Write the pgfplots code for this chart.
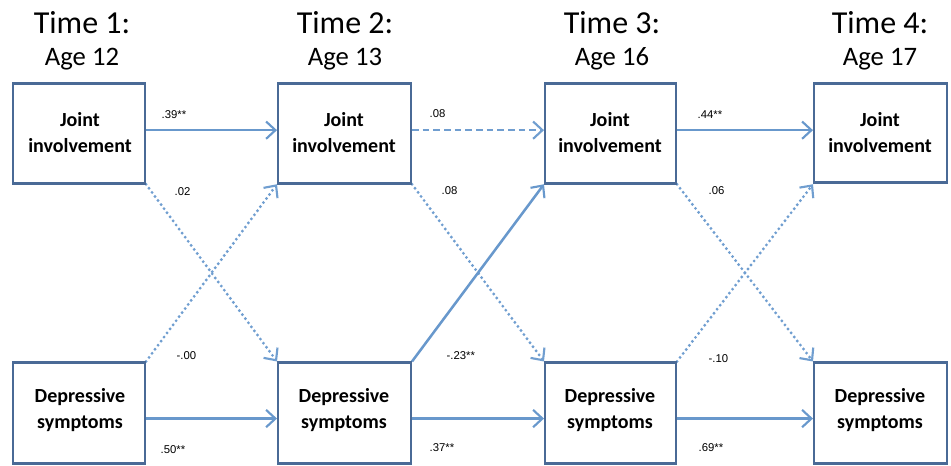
\documentclass[border=0pt]{standalone}
\usepackage{pgfplots}
\pgfplotsset{compat=1.18}
\usepackage{fontspec}
\setmainfont{Carlito}
\newfontfamily\labfont{Liberation Sans}
\usetikzlibrary{arrows.meta}
\definecolor{boxc}{RGB}{74,106,150}
\definecolor{arrc}{RGB}{104,152,204}
\definecolor{dotc}{RGB}{112,158,208}
\begin{document}
\begin{tikzpicture}
\begin{axis}[
  scale only axis, width=713.25pt, height=348pt,
  xmin=0, xmax=951, ymin=0, ymax=464, y dir=reverse,
  hide axis, clip=false,
  solid arr/.style={arrc, line width=1.9pt, -{Straight Barb[length=7pt,width=13pt,line width=1.6pt]}},
  dash arr/.style={dotc, line width=1.9pt, dash pattern=on 5pt off 3pt, -{Straight Barb[length=7pt,width=13pt,line width=1.6pt]}},
  dot arr/.style={dotc, line width=2.4pt, line cap=round, dash pattern=on 0pt off 3.8pt, -{Straight Barb[length=7pt,width=13pt,line width=1.6pt]}},
  boxline/.style={boxc, line width=2.2pt, line cap=rect, line join=miter},
]
% invisible frame to fix the bounding box
\addplot[draw=none] coordinates {(0,0) (951,464)};
% horizontal paths, top row (joint involvement)
\addplot[solid arr] coordinates {(146,130) (277,130)};
\addplot[dash arr]  coordinates {(412,130) (544,130)};
\addplot[solid arr] coordinates {(677,130) (813,130)};
% horizontal paths, bottom row (depressive symptoms)
\addplot[solid arr] coordinates {(146,418) (277,418)};
\addplot[solid arr] coordinates {(412,418) (544,418)};
\addplot[solid arr] coordinates {(677,418) (813,418)};
% cross-lagged paths
\addplot[dot arr]   coordinates {(146,184) (277,361)};
\addplot[dot arr]   coordinates {(146,361) (277,184)};
\addplot[dot arr]   coordinates {(412,184) (544,361)};
\addplot[solid arr] coordinates {(412,361) (544,184)};
\addplot[dot arr]   coordinates {(677,184) (813,361)};
\addplot[dot arr]   coordinates {(677,361) (813,184)};
% boxes
\addplot[boxline] coordinates {(13,83) (145,83) (145,183) (13,183) (13,83)};
\addplot[boxline] coordinates {(278,83) (411,83) (411,183) (278,183) (278,83)};
\addplot[boxline] coordinates {(545,83) (676,83) (676,183) (545,183) (545,83)};
\addplot[boxline] coordinates {(814,83) (947,83) (947,182) (814,182) (814,83)};
\addplot[boxline] coordinates {(13,362) (145,362) (145,463) (13,463) (13,362)};
\addplot[boxline] coordinates {(278,362) (411,362) (411,463) (278,463) (278,362)};
\addplot[boxline] coordinates {(545,362) (676,362) (676,463) (545,463) (545,362)};
\addplot[boxline] coordinates {(814,362) (947,362) (947,463) (814,463) (814,362)};
% titles
\foreach \xx/\tt/\aa in {82/1/12, 345/2/13, 612/3/16, 880/4/17}{
  \edef\temp{\noexpand\node[font=\noexpand\fontsize{24}{28}\noexpand\selectfont] at (axis cs:\xx,23) {Time \tt:};
  \noexpand\node[font=\noexpand\fontsize{20}{24}\noexpand\selectfont] at (axis cs:\xx,59) {Age \aa};}
  \temp
}
% box texts
\foreach \xx in {80,344,610,880}{
  \edef\temp{\noexpand\node[font=\noexpand\fontsize{15}{19.5}\noexpand\selectfont\noexpand\bfseries, align=center] at (axis cs:\xx,132) {Joint\noexpand\\involvement};
  \noexpand\node[font=\noexpand\fontsize{15}{19.5}\noexpand\selectfont\noexpand\bfseries, align=center] at (axis cs:\xx,410) {Depressive\noexpand\\symptoms};}
  \temp
}
% coefficients
\tikzset{coef/.style={font=\labfont\fontsize{8.5}{10}\selectfont, anchor=west}}
\node[coef] at (axis cs:157,114) {.39**};
\node[coef] at (axis cs:170,191) {.02};
\node[coef] at (axis cs:172,355) {-.00};
\node[coef] at (axis cs:156,449) {.50**};
\node[coef] at (axis cs:425,113) {.08};
\node[coef] at (axis cs:437,190) {.08};
\node[coef] at (axis cs:442,355) {-.23**};
\node[coef] at (axis cs:425,447) {.37**};
\node[coef] at (axis cs:693,114) {.44**};
\node[coef] at (axis cs:704,190) {.06};
\node[coef] at (axis cs:704,358) {-.10};
\node[coef] at (axis cs:694,447) {.69**};
\end{axis}
\end{tikzpicture}
\end{document}
